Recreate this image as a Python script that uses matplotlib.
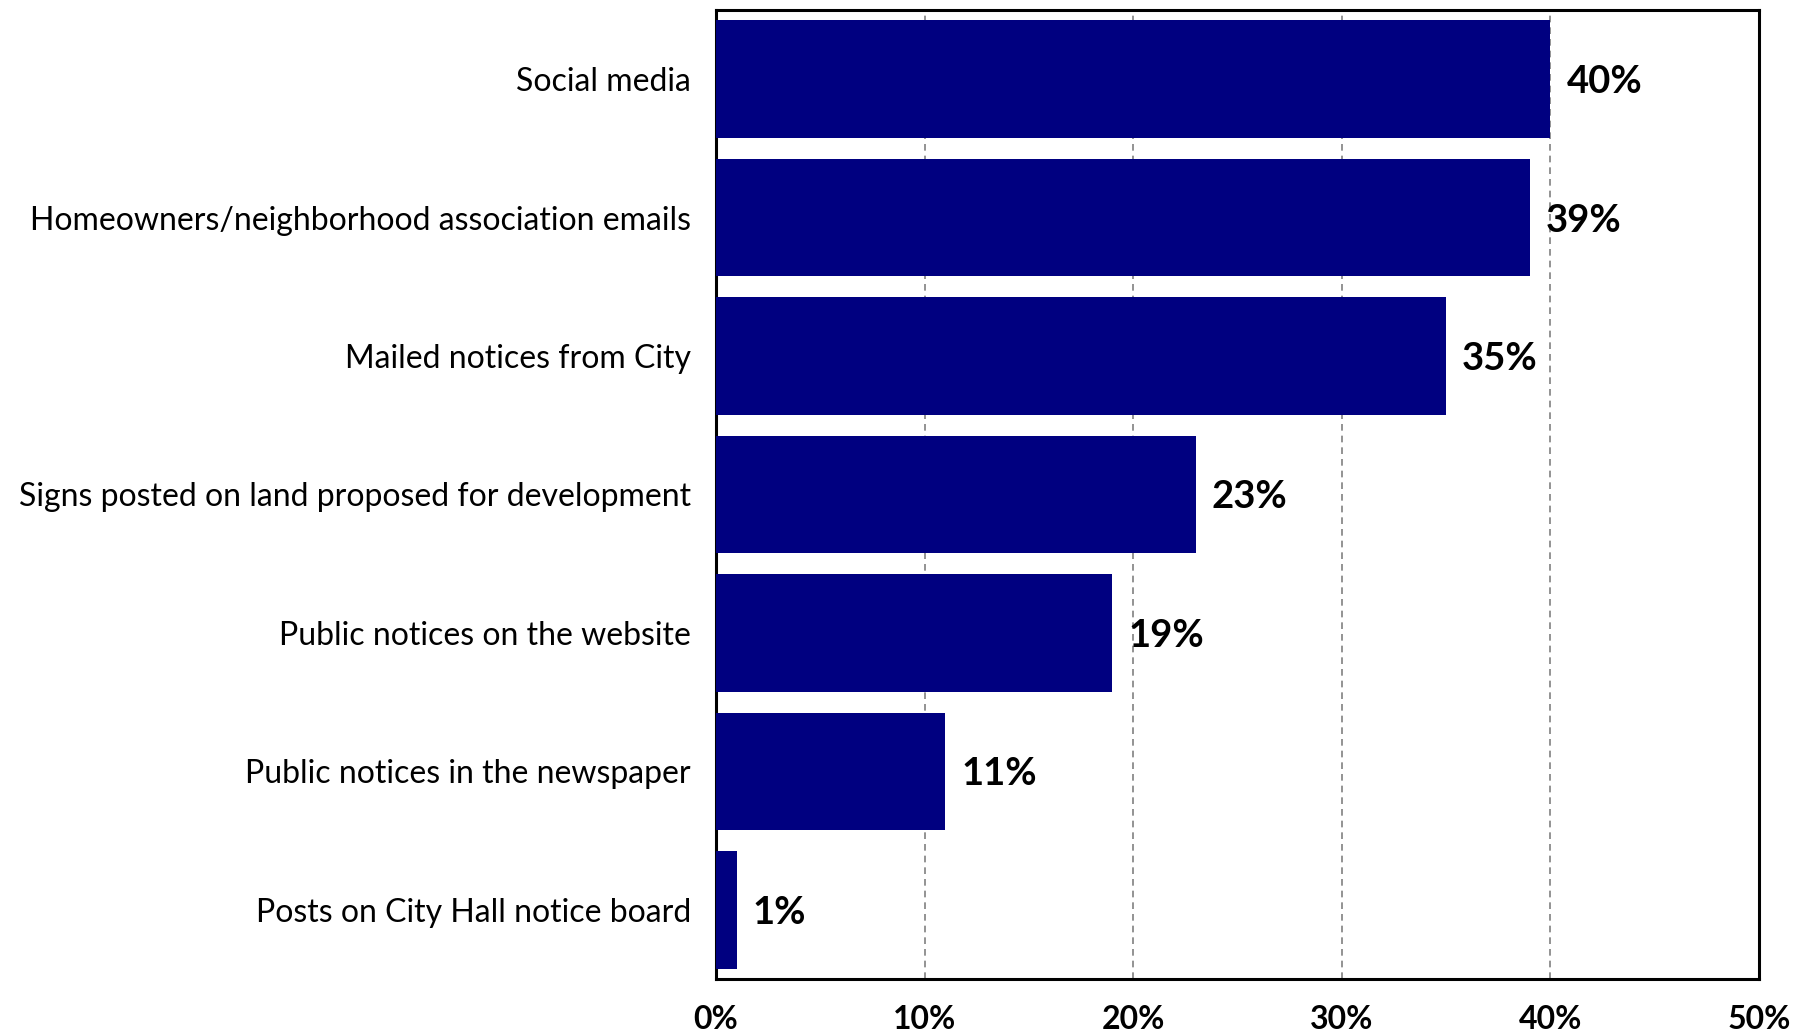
#!/usr/bin/env python3

'''
Horizontal bar chart: how residents hear about proposed development
'''

import matplotlib
matplotlib.use('Agg')
import matplotlib.pyplot as plt
from matplotlib.ticker import FuncFormatter

# survey results, top bar first
categories = [
    'Social media',
    'Homeowners/neighborhood association emails',
    'Mailed notices from City',
    'Signs posted on land proposed for development',
    'Public notices on the website',
    'Public notices in the newspaper',
    'Posts on City Hall notice board',
]
percents = [40, 39, 35, 23, 19, 11, 1]
xticks = [0, 10, 20, 30, 40, 50]

BAR_COLOR = '#000080'
FONT = 'Lato'


def plot_bars(outfile='out.png'):
    fig = plt.figure(figsize=(18.09, 10.33), dpi=100)
    ax = fig.add_axes([0.3958, 0.0523, 0.5766, 0.938])

    ypos = list(range(len(categories)))
    ax.barh(ypos, percents, height=0.85, color=BAR_COLOR, zorder=3)

    ax.set_ylim(len(categories) - 0.5, -0.5)
    ax.set_xlim(xticks[0], xticks[-1])

    ax.set_yticks(ypos)
    ax.set_yticklabels(categories, fontsize=23, family=FONT)
    ax.set_xticks(xticks)
    ax.xaxis.set_major_formatter(FuncFormatter(lambda v, p: '%d%%' % v))
    for lbl in ax.get_xticklabels():
        lbl.set_fontsize(23)
        lbl.set_fontweight('bold')
        lbl.set_family(FONT)

    # pads are in points (dpi 100)
    ax.tick_params(axis='y', length=0, pad=18)
    ax.tick_params(axis='x', length=0, pad=19)

    # dashed vertical guides behind the bars
    ax.xaxis.grid(True, linestyle=(0, (4, 3)), color='#808080', linewidth=1.2, zorder=0)
    ax.set_axisbelow(True)

    for s in ax.spines.values():
        s.set_linewidth(2.2)
        s.set_color('black')

    # value labels just right of each bar
    for y, v in zip(ypos, percents):
        ax.annotate('%d%%' % v, xy=(v, y), xytext=(16, -3), textcoords='offset pixels',
                    ha='left', va='center', fontsize=27.5, fontweight='bold',
                    family=FONT, zorder=4)

    fig.savefig(outfile, dpi=100)


if __name__ == '__main__':
    plot_bars()
